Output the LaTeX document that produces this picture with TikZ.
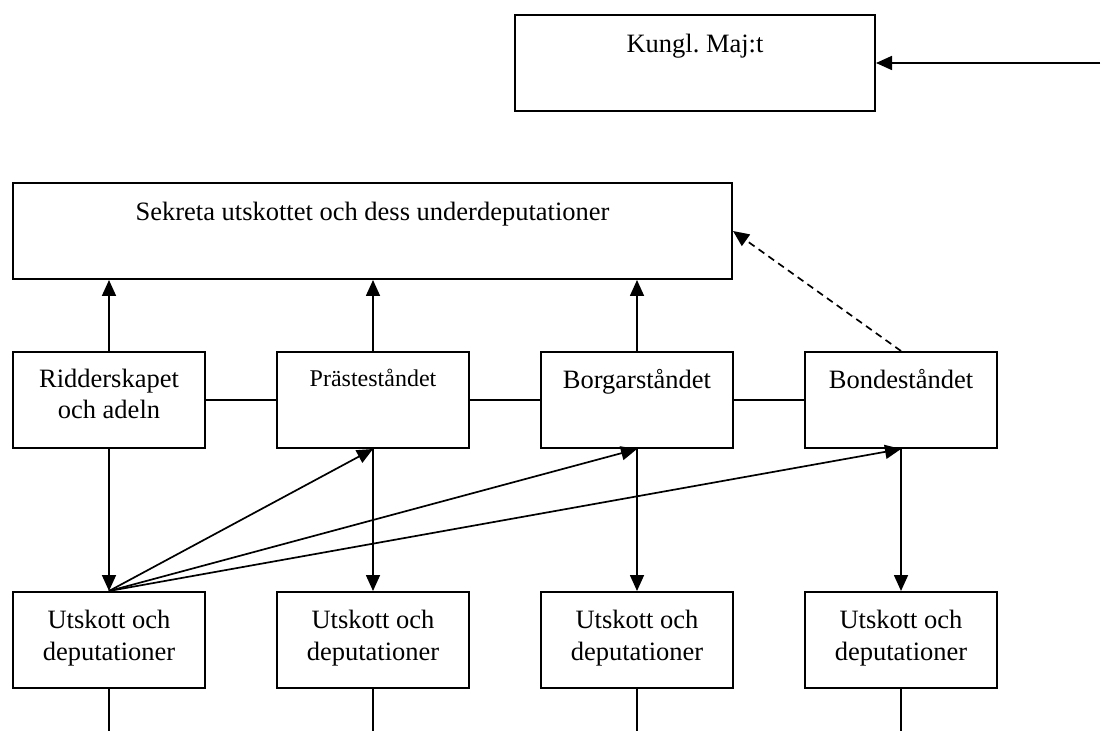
\documentclass[tikz,border=0pt]{standalone}
\usepackage{fontspec}
\setmainfont{Liberation Serif}
\usetikzlibrary{arrows.meta}
\frenchspacing

\tikzset{
  ruta/.style={draw, line width=1pt, minimum width=96pt, minimum height=48pt, inner sep=0pt},
  rubrik/.style={anchor=north, align=center, inner sep=0pt, font=\fontsize{13.25}{15.75}\selectfont},
  linje/.style={line width=0.85pt},
  pil/.style={linje, -{Triangle[length=8pt,width=7pt]}},
  streckad/.style={dash pattern=on 3.5pt off 2.5pt}
}

\begin{document}
\begin{tikzpicture}[x=0.5pt, y=-0.5pt]
    \useasboundingbox (0,0) rectangle (1106,731);

    % Kungl. Maj:t
    \node[ruta, minimum width=180pt] (kung) at (695,63) {};
    \node[rubrik, below=10pt] (kungtext) at (kung.north) {Kungl. Maj:t};
    \coordinate (hoger) at (1100,63);
    \draw[pil] (hoger) -- (kung.east);

    % Sekreta utskottet
    \node[ruta, minimum width=359.5pt] (sekreta) at (372.5,231) {};
    \node[rubrik, below=9.75pt] (sekretatext) at (sekreta.north) {Sekreta utskottet och dess underdeputationer};

    % Standen
    \node[ruta] (ridder) at (109,400) {};
    \node[ruta] (prast)  at (373,400) {};
    \node[ruta] (borgar) at (637,400) {};
    \node[ruta] (bonde)  at (901,400) {};
    \node[rubrik, below=8.75pt] (riddertext) at (ridder.north) {Ridderskapet\\och adeln};
    \node[rubrik, below=8.75pt, font=\fontsize{12}{15}\selectfont] (prasttext) at (prast.north) {Prästeståndet};
    \node[rubrik, below=8.75pt] (borgartext) at (borgar.north) {Borgarståndet};
    \node[rubrik, below=8.75pt] (bondetext) at (bonde.north) {Bondeståndet};

    % Utskott och deputationer
    \node[ruta] (ut1) at (109,640) {};
    \node[ruta] (ut2) at (373,640) {};
    \node[ruta] (ut3) at (637,640) {};
    \node[ruta] (ut4) at (901,640) {};
    \node[rubrik, below=9.5pt] (ut1text) at (ut1.north) {Utskott och\\deputationer};
    \node[rubrik, below=9.5pt] (ut2text) at (ut2.north) {Utskott och\\deputationer};
    \node[rubrik, below=9.5pt] (ut3text) at (ut3.north) {Utskott och\\deputationer};
    \node[rubrik, below=9.5pt] (ut4text) at (ut4.north) {Utskott och\\deputationer};

    % Linjer mellan standen
    \draw[linje] (ridder) -- (prast);
    \draw[linje] (prast) -- (borgar);
    \draw[linje] (borgar) -- (bonde);

    % Pilar upp till sekreta utskottet
    \draw[pil] (ridder.north) -- (sekreta.south -| ridder.north);
    \draw[pil] (prast.north) -- (sekreta.south -| prast.north);
    \draw[pil] (borgar.north) -- (sekreta.south -| borgar.north);
    \draw[pil, streckad] (bonde.north) -- (sekreta.east);

    % Pilar ner till utskotten
    \draw[pil] (ridder.south) -- (ut1.north);
    \draw[pil] (prast.south) -- (ut2.north);
    \draw[pil] (borgar.south) -- (ut3.north);
    \draw[pil] (bonde.south) -- (ut4.north);

    % Pilar fran forsta utskottet
    \draw[pil] (ut1.north) -- (prast.south);
    \draw[pil] (ut1.north) -- (borgar.south);
    \draw[pil] (ut1.north) -- (bonde.south);

    % Linjer ut nedtill
    \coordinate (nere) at (0,731);
    \draw[linje] (ut1.south) -- (ut1.south |- nere);
    \draw[linje] (ut2.south) -- (ut2.south |- nere);
    \draw[linje] (ut3.south) -- (ut3.south |- nere);
    \draw[linje] (ut4.south) -- (ut4.south |- nere);
\end{tikzpicture}
\end{document}
